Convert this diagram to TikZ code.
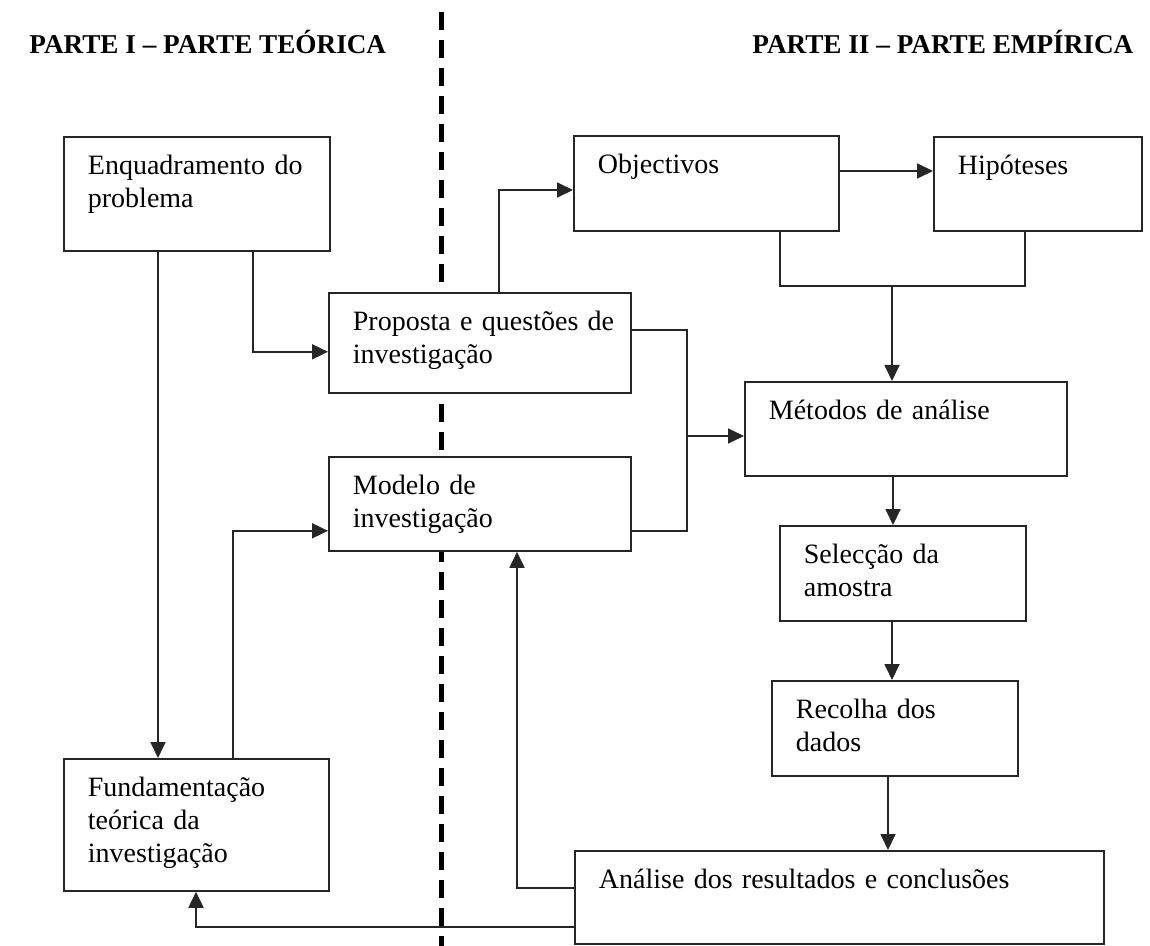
\documentclass[tikz,border=0pt]{standalone}
\usepackage{fontspec}
\setmainfont{Liberation Serif}
\usepackage{tikz}
\usetikzlibrary{shapes,arrows,arrows.meta,calc}
\tikzstyle{link} = [draw, line width=0.9pt, black!85]
\tikzstyle{line} = [link, -{Triangle[length=8pt,width=7.5pt]}]
\tikzstyle{block} = [draw, line width=0.9pt, black!85, fill=white, text=black, anchor=north west, inner xsep=0pt, inner ysep=0pt, text height=19pt, font=\fontsize{14}{16.5}\selectfont, execute at begin node={\raggedright\leftskip=12pt\relax}]
\tikzstyle{title} = [anchor=base west, inner sep=0pt, font=\bfseries\fontsize{13.6}{16}\selectfont]
\tikzstyle{divider} = [line width=2.5pt, dash pattern=on 9pt off 5pt]

\begin{document}
\begin{tikzpicture}[x=0.5pt, y=-0.5pt]
        \fill[white] (0,0) rectangle (1150,946);
        \useasboundingbox (0,0) rectangle (1150,946);
        \draw[divider] (441,12) -- (441,946);
        \node[title] (teorica) at (29,54) {PARTE I -- PARTE TEÓRICA};
        \node[title] (empirica) at (752,54) {PARTE II -- PARTE EMPÍRICA};
        % parte teorica
        \node[block, text width=133pt, text depth=38pt] (enq) at (63,136) {Enquadramento do\\problema};
        \node[block, text width=132.5pt, text depth=47pt] (fund) at (63,758) {Fundamentação\\teórica da\\investigação};
        \node[block, text width=151pt, text depth=31pt] (prop) at (328,292) {Proposta e questões de\\investigação};
        \node[block, text width=151pt, text depth=28pt] (modelo) at (328,456) {Modelo de\\investigação};
        % parte empirica
        \node[block, text width=132.5pt, text depth=28.5pt] (obj) at (573,135) {Objectivos};
        \node[block, text width=104pt, text depth=28pt] (hip) at (933,136) {Hipóteses};
        \node[block, text width=161pt, text depth=28pt] (met) at (744,381) {Métodos de análise};
        \node[block, text width=123pt, text depth=28.5pt] (sel) at (779,525) {Selecção da\\amostra};
        \node[block, text width=123pt, text depth=28.5pt] (rec) at (771,680) {Recolha dos\\dados};
        \node[block, text width=264.5pt, text depth=27.5pt] (ana) at (574,850) {Análise dos resultados e conclusões};
        \coordinate (merge) at (892,286);
        \coordinate (fork) at (687,436);
        \path[line] ($(enq.south west)+(95,0)$) -- ($(fund.north west)+(95,0)$);
        \path[line] ($(enq.south west)+(190,0)$) |- ($(prop.south west)+(0,-42)$);
        \path[line] ($(fund.north west)+(170,0)$) |- ($(modelo.south west)+(0,-21)$);
        \path[line] ($(prop.north west)+(171,0)$) |- ($(obj.north west)+(0,55)$);
        \path[line] ($(obj.north east)+(0,36)$) -- ($(hip.north west)+(0,35)$);
        \path[link] ($(obj.south west)+(207,0)$) |- (merge) -| ($(hip.south west)+(92,0)$);
        \path[line] (merge) -- (merge |- met.north);
        \path[link] ($(prop.north east)+(0,38)$) -| (fork);
        \path[link] ($(modelo.south east)+(0,-21)$) -| (fork);
        \path[line] (fork) -- (fork -| met.west);
        \path[line] ($(met.south west)+(149,0)$) -- ($(sel.north west)+(114,0)$);
        \path[line] ($(sel.south west)+(113,0)$) -- ($(rec.north west)+(121,0)$);
        \path[line] ($(rec.south west)+(117,0)$) -- ($(ana.north west)+(314,0)$);
        \path[line] ($(ana.north west)+(0,38)$) -| ($(modelo.south west)+(189,0)$);
        \path[line] ($(ana.south west)+(0,-18)$) -| ($(fund.south west)+(133,0)$);
\end{tikzpicture}
\end{document}
